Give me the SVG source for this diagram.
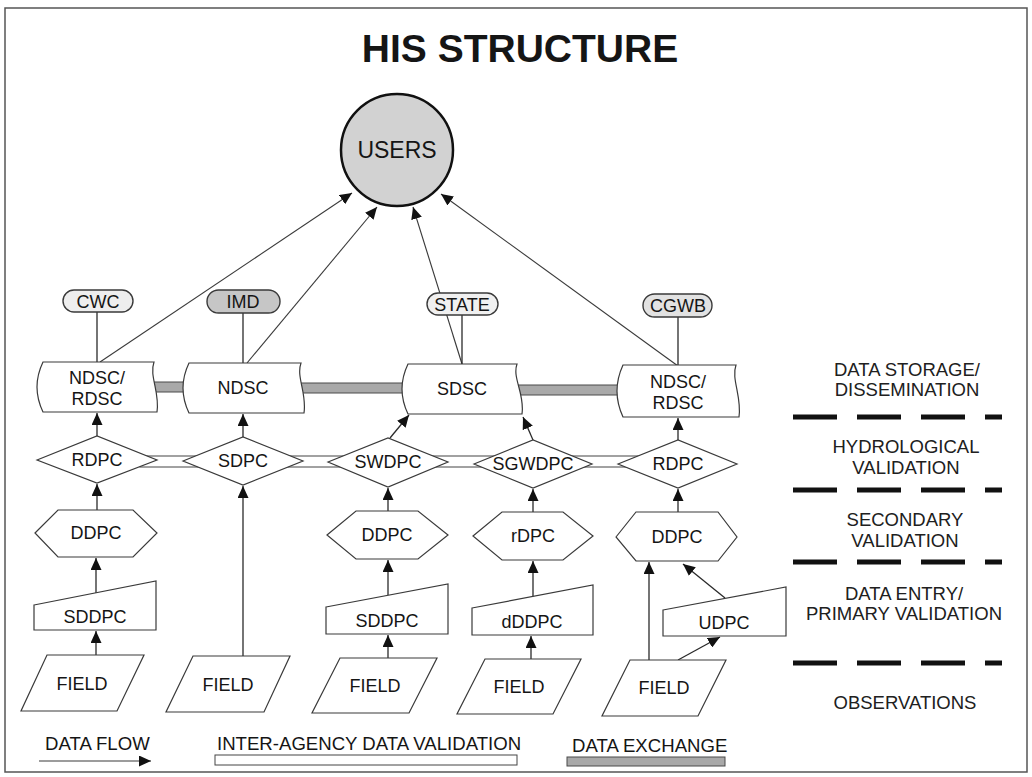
<svg xmlns="http://www.w3.org/2000/svg" width="1032" height="777" viewBox="0 0 1032 777">
<style>
  text { font-family: "Liberation Sans", Arial, sans-serif; fill: #151515; }
  .lbl { font-size: 18px; text-anchor: middle; }
  .pilltxt { font-size: 18px; text-anchor: middle; }
  .tier { font-size: 18.5px; text-anchor: middle; fill: #202020; }
  .leg { font-size: 18.6px; }
  .shape { fill: #ffffff; stroke: #3a3a3a; stroke-width: 1.2; }
  .pill { stroke: #3a3a3a; stroke-width: 1.4; }
  .conn { stroke: #2a2a2a; stroke-width: 1.3; fill: none; }
  .thin { stroke: #3a3a3a; stroke-width: 1.1; fill: none; }
  .arr { marker-end: url(#ah); }
  .xch { fill: #a9a9a9; stroke: #4a4a4a; stroke-width: 1; }
  .band { fill: #ffffff; stroke: #444; stroke-width: 1; }
  .sep { stroke: #111; stroke-width: 5; stroke-dasharray: 44 20; }
</style>
<defs>
  <marker id="ah" viewBox="0 0 12 11" refX="12" refY="5.5" markerWidth="12" markerHeight="11" markerUnits="userSpaceOnUse" orient="auto">
    <path d="M0,0 L12,5.5 L0,11 z" fill="#111"/>
  </marker>
</defs>

<rect x="5" y="8" width="1022" height="764" fill="#ffffff" stroke="#555" stroke-width="1.5"/>

<text x="520" y="62" font-size="39" font-weight="bold" text-anchor="middle" fill="#000">HIS STRUCTURE</text>

<!-- connectors -->
<g id="connectors">
  <!-- data exchange bars -->
  <rect class="xch" x="150" y="382" width="38" height="10"/>
  <rect class="xch" x="300" y="383" width="106" height="10"/>
  <rect class="xch" x="518" y="385" width="103" height="10"/>
  <!-- inter-agency validation band -->
  <rect class="band" x="140" y="456" width="500" height="11"/>
  <!-- to users -->
  <line class="thin arr" x1="100" y1="362" x2="352" y2="193"/>
  <line class="thin arr" x1="247" y1="363" x2="377" y2="207"/>
  <line class="thin arr" x1="462" y1="364" x2="413" y2="207"/>
  <line class="thin arr" x1="678" y1="366" x2="441" y2="194"/>
  <!-- agency pills to storage -->
  <line class="conn" x1="97" y1="312" x2="97" y2="362"/>
  <line class="conn" x1="243" y1="313" x2="243" y2="363"/>
  <line class="conn" x1="462" y1="315" x2="462" y2="364"/>
  <line class="conn" x1="678" y1="317" x2="678" y2="366"/>
  <!-- diamonds to storage -->
  <line class="conn arr" x1="97" y1="436" x2="97" y2="413"/>
  <line class="conn arr" x1="243" y1="437" x2="243" y2="414"/>
  <line class="conn arr" x1="390" y1="438" x2="409" y2="415"/>
  <line class="conn arr" x1="533" y1="440" x2="523" y2="417"/>
  <line class="conn arr" x1="678" y1="440" x2="678" y2="418"/>
  <!-- hexagons to diamonds -->
  <line class="conn arr" x1="97" y1="510" x2="97" y2="484"/>
  <line class="conn arr" x1="388" y1="511" x2="388" y2="488"/>
  <line class="conn arr" x1="533" y1="512" x2="533" y2="489"/>
  <line class="conn arr" x1="678" y1="512" x2="678" y2="489"/>
  <!-- trapezoids to hexagons -->
  <line class="conn arr" x1="96" y1="593" x2="96" y2="558"/>
  <line class="conn arr" x1="388" y1="595" x2="388" y2="560"/>
  <line class="conn arr" x1="533" y1="597" x2="533" y2="561"/>
  <line class="conn arr" x1="725" y1="598" x2="683" y2="564"/>
  <!-- fields up -->
  <line class="conn arr" x1="96" y1="655" x2="96" y2="631"/>
  <line class="conn arr" x1="243" y1="656" x2="243" y2="486"/>
  <line class="conn arr" x1="388" y1="658" x2="388" y2="635"/>
  <line class="conn arr" x1="531" y1="659" x2="531" y2="636"/>
  <line class="conn arr" x1="649" y1="660" x2="649" y2="562"/>
  <line class="conn arr" x1="678" y1="660" x2="720" y2="637"/>
</g>

<!-- users -->
<g id="users">
  <circle cx="397" cy="150" r="56" fill="#d2d2d2" stroke="#111" stroke-width="2.5"/>
  <text x="397" y="158" font-size="23" text-anchor="middle">USERS</text>
</g>

<!-- agency pills -->
<g id="cwc"><rect class="pill" x="63" y="290" width="70" height="22" rx="11" fill="#eeeeee"/><text class="pilltxt" x="98" y="308">CWC</text></g>
<g id="imd"><rect class="pill" x="207" y="290" width="73" height="23" rx="11.5" fill="#c6c6c6"/><text class="pilltxt" x="243" y="308">IMD</text></g>
<g id="state"><rect class="pill" x="427" y="293" width="71" height="22" rx="11" fill="#f0f0f0"/><text class="pilltxt" x="462" y="311">STATE</text></g>
<g id="cgwb"><rect class="pill" x="643" y="294" width="69" height="23" rx="11.5" fill="#e2e2e2"/><text class="pilltxt" x="678" y="312">CGWB</text></g>

<!-- storage nodes -->
<g id="ndsc-rdsc-1">
  <path class="shape" d="M43,362 L154,362 C149,376 160,392 157,412 L43,412 Q31,387 43,362 Z"/>
  <text class="lbl" x="97" y="384">NDSC/</text><text class="lbl" x="97" y="405">RDSC</text>
</g>
<g id="ndsc">
  <path class="shape" d="M189,363 L301,363 C296,377 307,393 304,413 L189,413 Q177,388 189,363 Z"/>
  <text class="lbl" x="243" y="394">NDSC</text>
</g>
<g id="sdsc">
  <path class="shape" d="M408,364 L517,364 C512,378 525,394 522,414 L408,414 Q396,389 408,364 Z"/>
  <text class="lbl" x="462" y="395">SDSC</text>
</g>
<g id="ndsc-rdsc-2">
  <path class="shape" d="M623,365 L736,365 C731,379 742,397 739,417 L623,417 Q611,391 623,365 Z"/>
  <text class="lbl" x="678" y="388">NDSC/</text><text class="lbl" x="678" y="409">RDSC</text>
</g>

<!-- diamonds -->
<g id="rdpc-1"><polygon class="shape" points="37,460 97,436 157,460 97,483"/><text class="lbl" x="97" y="466">RDPC</text></g>
<g id="sdpc"><polygon class="shape" points="183,461 243,437 303,461 243,485"/><text class="lbl" x="243" y="467">SDPC</text></g>
<g id="swdpc"><polygon class="shape" points="328,462 388,438 448,462 388,487"/><text class="lbl" x="388" y="468">SWDPC</text></g>
<g id="sgwdpc"><polygon class="shape" points="474,464 533,440 592,464 533,488"/><text class="lbl" x="533" y="470">SGWDPC</text></g>
<g id="rdpc-2"><polygon class="shape" points="618,464 678,440 737,464 678,488"/><text class="lbl" x="678" y="470">RDPC</text></g>

<!-- hexagons -->
<g id="ddpc-1"><polygon class="shape" points="35,533 58,510 133,510 157,533 133,557 58,557"/><text class="lbl" x="96" y="539">DDPC</text></g>
<g id="ddpc-2"><polygon class="shape" points="327,535 356,511 418,511 448,535 418,559 356,559"/><text class="lbl" x="387" y="541">DDPC</text></g>
<g id="rdpc-small"><polygon class="shape" points="473,536 502,512 563,512 593,536 563,560 502,560"/><text class="lbl" x="533" y="542">rDPC</text></g>
<g id="ddpc-3"><polygon class="shape" points="616,537 636,512 718,512 737,537 718,561 636,561"/><text class="lbl" x="677" y="543">DDPC</text></g>

<!-- trapezoids -->
<g id="sddpc-1"><polygon class="shape" points="34,605 156,581 156,630 34,630"/><text class="lbl" x="95" y="623">SDDPC</text></g>
<g id="sddpc-2"><polygon class="shape" points="326,607 448,584 448,634 326,634"/><text class="lbl" x="387" y="627">SDDPC</text></g>
<g id="dddpc"><polygon class="shape" points="472,608 593,585 593,635 472,635"/><text class="lbl" x="532" y="628">dDDPC</text></g>
<g id="udpc"><polygon class="shape" points="663,610 786,587 786,636 663,636"/><text class="lbl" x="724" y="629">UDPC</text></g>

<!-- fields -->
<g id="field-1"><polygon class="shape" points="47,655 144,655 117,711 21,711"/><text class="lbl" x="82" y="690">FIELD</text></g>
<g id="field-2"><polygon class="shape" points="193,656 290,656 264,712 166,712"/><text class="lbl" x="228" y="691">FIELD</text></g>
<g id="field-3"><polygon class="shape" points="340,658 437,658 409,713 312,713"/><text class="lbl" x="375" y="692">FIELD</text></g>
<g id="field-4"><polygon class="shape" points="485,659 581,659 553,714 457,714"/><text class="lbl" x="519" y="693">FIELD</text></g>
<g id="field-5"><polygon class="shape" points="630,660 726,660 698,716 602,716"/><text class="lbl" x="664" y="694">FIELD</text></g>

<!-- tier separators and labels -->
<g id="tiers">
  <line class="sep" x1="793" y1="417" x2="1002" y2="417"/>
  <line class="sep" x1="793" y1="490" x2="1002" y2="490"/>
  <line class="sep" x1="793" y1="562" x2="1002" y2="562"/>
  <line class="sep" x1="793" y1="663" x2="1002" y2="663"/>
  <text class="tier" x="907" y="376">DATA STORAGE/</text>
  <text class="tier" x="907" y="396">DISSEMINATION</text>
  <text class="tier" x="906" y="453">HYDROLOGICAL</text>
  <text class="tier" x="906" y="474">VALIDATION</text>
  <text class="tier" x="905" y="526">SECONDARY</text>
  <text class="tier" x="905" y="547">VALIDATION</text>
  <text class="tier" x="904" y="600">DATA ENTRY/</text>
  <text class="tier" x="904" y="620">PRIMARY VALIDATION</text>
  <text class="tier" x="905" y="709">OBSERVATIONS</text>
</g>

<!-- legend -->
<g id="legend">
  <text class="leg" x="45" y="750">DATA FLOW</text>
  <line class="thin arr" x1="39" y1="761" x2="151" y2="761"/>
  <text class="leg" x="217" y="750">INTER-AGENCY DATA VALIDATION</text>
  <rect class="band" x="215" y="755" width="302" height="10"/>
  <text class="leg" x="572" y="752">DATA EXCHANGE</text>
  <rect class="xch" x="567" y="757" width="158" height="9"/>
</g>
</svg>
